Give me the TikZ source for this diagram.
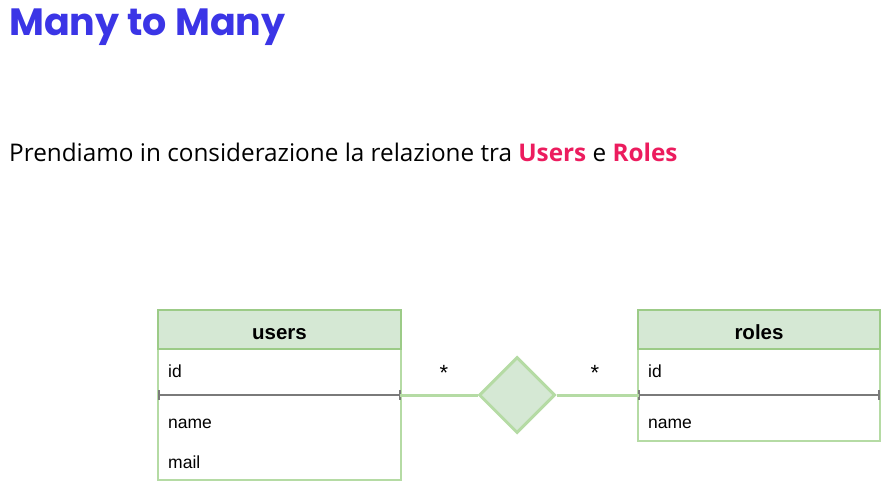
\documentclass[tikz,border=0pt]{standalone}
\usepackage{fontspec}
\setmainfont{Liberation Sans}
\newfontfamily\headingfont{Poppins}
\newfontfamily\introfont{Open Sans}
\usetikzlibrary{shapes.geometric}
\definecolor{titleblue}{HTML}{3B35E6}
\definecolor{accent}{HTML}{EC1C5E}
\definecolor{hdrfill}{HTML}{D5E8D4}
\definecolor{hdrline}{HTML}{9CCB87}
\definecolor{boxline}{HTML}{B5DBA4}
\definecolor{sepgray}{HTML}{7A7A7A}
\tikzset{
  hdr/.style={draw=hdrline, fill=hdrfill, line width=2pt},
  tbl/.style={draw=boxline, fill=white, line width=2pt},
  sep/.style={draw=sepgray, line width=2.5pt},
  link/.style={draw=boxline, line width=3pt},
  field/.style={anchor=base west, inner sep=0pt, font=\fontsize{17.5}{20}\selectfont},
  tname/.style={anchor=base, inner sep=0pt, font=\fontsize{20.5}{24}\selectfont\bfseries},
  rel/.style={diamond, draw=boxline, fill=hdrfill, line width=3pt, minimum width=76pt, minimum height=76pt, inner sep=0pt},
  card/.style={inner sep=0pt, font=\fontsize{22}{22}\selectfont}
}
\begin{document}
\begin{tikzpicture}[x=1pt, y=-1pt]
\useasboundingbox (0,0) rectangle (893,500);
\fill[white] (0,0) rectangle (893,500);

% heading and intro line
\node[anchor=base west, inner sep=0pt, text=titleblue, font=\headingfont\fontsize{38}{40}\selectfont\bfseries] (title) at (9,36) {Many to Many};
\node[anchor=base west, inner sep=0pt, font=\introfont\fontsize{24.3}{28}\selectfont] (intro) at (9,161)
  {Prendiamo in considerazione la relazione tra {\bfseries\color{accent}Users} e {\bfseries\color{accent}Roles}};

% users table
\path[tbl] (158,349) rectangle (401,480);
\path[hdr] (158,310) rectangle (401,349);
\node[tname] (users) at (279.5,339) {users};
\node[field] (uid) at (168,377) {id};
\node[field] (uname) at (168,428) {name};
\node[field] (umail) at (168,468) {mail};
\coordinate (usepL) at (159,395);
\coordinate (usepR) at (400,395);
\draw[sep] (usepL) -- (usepR);
\draw[sepgray, line width=1.5pt] (159,390) -- (159,400) (400,390) -- (400,400);

% roles table
\path[tbl] (638,349) rectangle (880,441);
\path[hdr] (638,310) rectangle (880,349);
\node[tname] (roles) at (759,339) {roles};
\node[field] (rid) at (648,377) {id};
\node[field] (rname) at (648,428) {name};
\coordinate (rsepL) at (639,395);
\coordinate (rsepR) at (879,395);
\draw[sep] (rsepL) -- (rsepR);
\draw[sepgray, line width=1.5pt] (639,390) -- (639,400) (879,390) -- (879,400);

% relationship
\node[rel] (link) at (517,395) {};
\draw[link] (usepR) -- (link.west);
\draw[link] (link.east) -- (rsepL);
\node[card] (cardL) at (444,373) {*};
\node[card] (cardR) at (595,373) {*};
\end{tikzpicture}
\end{document}
